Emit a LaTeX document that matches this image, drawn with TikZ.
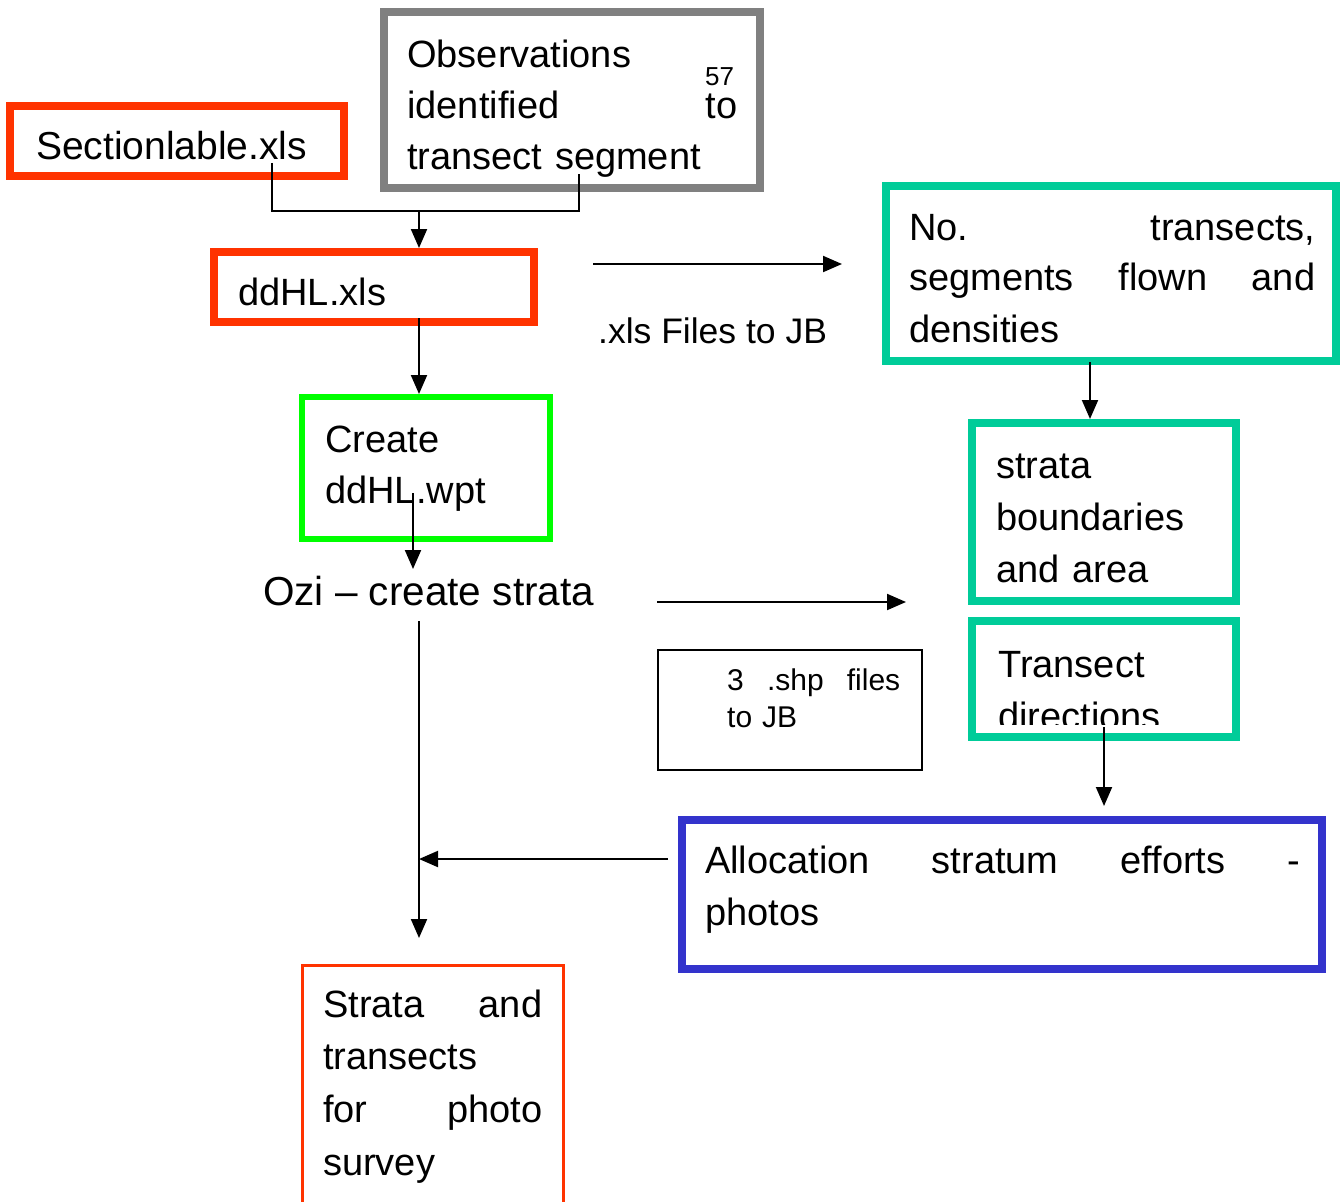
\documentclass[tikz,border=0pt]{standalone}
\usepackage{fontspec}
\setmainfont{Liberation Sans}
\usetikzlibrary{arrows.meta}
\definecolor{bred}{HTML}{FF3300}
\definecolor{bgray}{HTML}{808080}
\definecolor{bgreen}{HTML}{00FF00}
\definecolor{bteal}{HTML}{00CC99}
\definecolor{bblue}{HTML}{3333CC}
\begin{document}
\begin{tikzpicture}[x=1pt,y=-1pt,
  frame/.style={rectangle, inner sep=0pt, line width=8pt},
  txt/.style={anchor=base west, inner sep=0pt, align=left, font=\fontsize{38}{52}\selectfont},
  small/.style={anchor=base west, inner sep=0pt, align=left, font=\fontsize{30}{37}\selectfont},
  num/.style={anchor=base west, inner sep=0pt, font=\fontsize{26}{30}\selectfont},
  conn/.style={line width=2pt},
  arr/.style={conn, -{Triangle[length=19pt,width=16pt]}}]
\clip (0,0) rectangle (1340,1201);
\fill[white] (0,0) rectangle (1340,1201);

% boxes
\node[frame, draw=bred, minimum width=334pt, minimum height=70pt] (sec) at (177,141) {};
\node[frame, draw=bgray, minimum width=376pt, minimum height=176pt] (obs) at (572,100) {};
\node[frame, draw=bred, minimum width=320pt, minimum height=70pt] (ddhl) at (374,287) {};
\node[frame, draw=bgreen, line width=6pt, minimum width=248pt, minimum height=142pt] (create) at (426,468) {};
\node[frame, draw=bteal, minimum width=450pt, minimum height=175pt] (notr) at (1111,273.5) {};
\node[frame, draw=bteal, minimum width=264pt, minimum height=178pt] (strata) at (1104,512) {};
\node[frame, draw=bteal, minimum width=264pt, minimum height=116pt] (trdir) at (1104,679) {};
\node[frame, draw=black, line width=2pt, minimum width=264pt, minimum height=120pt] (shp) at (790,710) {};
\node[frame, draw=bblue, minimum width=640pt, minimum height=149pt] (alloc) at (1002,894.5) {};
\node[frame, draw=bred, line width=3pt, minimum width=261pt, minimum height=250pt] (final) at (433,1090.5) {};

% texts
\node[txt, font=\fontsize{39}{52}\selectfont] (sec-t) at (36,160) {Sectionlable.xls};
\node[txt, font=\fontsize{38}{51}\selectfont, text width=330pt] (obs-t) at (407,68) {Observations\\identified\hfill to\\transect segment};
\node[num] (obs-n) at (705,86) {57};
\node[txt] (ddhl-t) at (238,305) {ddHL.xls};
\node[txt, font=\fontsize{38}{51}\selectfont, text width=200pt] (create-t) at (325,452) {Create\\ddHL.wpt};
\node[txt, font=\fontsize{40.5}{52}\selectfont] (ozi) at (263,605) {Ozi -- create strata};
\node[txt, font=\fontsize{35.5}{52}\selectfont] (xls) at (598,343) {.xls Files to JB};
\node[txt, font=\fontsize{38}{51}\selectfont, text width=406pt] (notr-t) at (909,240) {No.\hfill transects,\\segments\hfill flown\hfill and\\densities};
\node[txt, text width=220pt] (strata-t) at (996,478) {strata\\boundaries\\and area};
\begin{scope}
\clip (970,600) rectangle (1240,724);
\node[txt, text width=220pt] (trdir-t) at (998,677) {Transect\\directions};
\end{scope}
\node[small, text width=173pt] (shp-t) at (727,690) {3\hfill .shp\hfill files\\to JB};
\node[txt, text width=595pt] (alloc-t) at (705,873) {Allocation\hfill stratum\hfill efforts\hfill -\\photos};
\node[txt, font=\fontsize{38}{52.7}\selectfont, text width=219pt] (final-t) at (323,1017) {Strata\hfill and\\transects\\for\hfill photo\\survey};

% connectors
\coordinate (c-sec) at (272,163);
\coordinate (c-obs) at (579,174);
\coordinate (c-j) at (419,211);
\draw[conn] (c-sec) |- (c-j) -| (c-obs);
\draw[arr] (c-j) -- (c-j |- ddhl.north);
\coordinate (c-dd) at (419,318);
\draw[arr] (c-dd) -- (c-dd |- create.north);
\coordinate (c-cr) at (413,493);
\coordinate (c-oz) at (413,569);
\draw[arr] (c-cr) -- (c-oz);
\coordinate (x1) at (593,264);
\coordinate (x2) at (842,264);
\draw[arr] (x1) -- (x2);
\coordinate (o1) at (657,602);
\coordinate (o2) at (906,602);
\draw[arr] (o1) -- (o2);
\coordinate (v1) at (419,621);
\coordinate (v2) at (419,938);
\draw[arr] (v1) -- (v2);
\coordinate (a1) at (668,859);
\draw[arr] (a1) -- (a1 -| v1);
\coordinate (t1) at (1090,362);
\draw[arr] (t1) -- (t1 |- strata.north);
\coordinate (t2) at (1104,727);
\coordinate (t3) at (1104,806);
\draw[arr] (t2) -- (t3);
\end{tikzpicture}
\end{document}
